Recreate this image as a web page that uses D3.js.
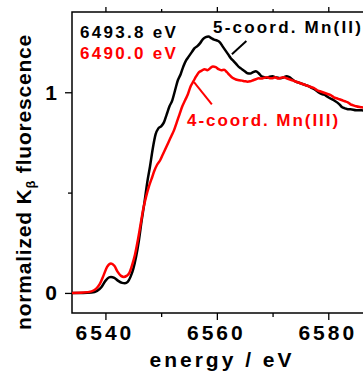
<!DOCTYPE html>
<html>
<head>
<meta charset="utf-8">
<script src="https://cdn.jsdelivr.net/npm/d3@7"></script>
<style>
  body { margin: 0; background: #fff; }
  svg { display: block; font-family: "Liberation Sans", Arial, sans-serif; font-weight: bold; }
</style>
</head>
<body>
<svg id="chart" width="363" height="371"></svg>
<script>
// energies (eV) and normalized intensities
var mn2Energy = [6534, 6536, 6537.5, 6538.5, 6539.3, 6540, 6540.6, 6541, 6541.6, 6542.3, 6543, 6543.5, 6544, 6544.5, 6545, 6545.5, 6546, 6546.5, 6547, 6547.5, 6548, 6548.5, 6549, 6549.5, 6550, 6550.5, 6551, 6551.5, 6552, 6552.5, 6553, 6553.5, 6554, 6554.5, 6555, 6555.5, 6556, 6556.5, 6557, 6557.5, 6558, 6558.5, 6559, 6559.5, 6560, 6560.5, 6561, 6561.5, 6562, 6562.5, 6563, 6563.5, 6564, 6564.5, 6565, 6565.5, 6566, 6566.5, 6567, 6567.5, 6568, 6568.5, 6569, 6569.5, 6570, 6570.5, 6571, 6571.5, 6572, 6572.5, 6573, 6573.5, 6574, 6574.5, 6575, 6575.5, 6576, 6576.5, 6577, 6577.5, 6578, 6578.5, 6579, 6579.5, 6580, 6581, 6582, 6582.5, 6583, 6583.5, 6584, 6585, 6586, 6587, 6588];
var mn2Value = [0, 0, 0.002, 0.01, 0.03, 0.06, 0.077, 0.08, 0.075, 0.06, 0.05, 0.048, 0.055, 0.08, 0.12, 0.18, 0.26, 0.36, 0.45, 0.55, 0.63, 0.72, 0.79, 0.82, 0.83, 0.85, 0.89, 0.93, 0.96, 1.01, 1.06, 1.09, 1.13, 1.16, 1.18, 1.2, 1.22, 1.23, 1.245, 1.265, 1.275, 1.278, 1.27, 1.262, 1.258, 1.25, 1.23, 1.21, 1.19, 1.17, 1.155, 1.14, 1.125, 1.115, 1.105, 1.095, 1.093, 1.1, 1.105, 1.095, 1.08, 1.075, 1.072, 1.078, 1.08, 1.075, 1.072, 1.07, 1.075, 1.08, 1.075, 1.065, 1.055, 1.05, 1.045, 1.04, 1.035, 1.03, 1.022, 1.015, 1.005, 0.995, 0.99, 0.985, 0.975, 0.96, 0.94, 0.925, 0.92, 0.915, 0.915, 0.91, 0.91, 0.905, 0.9];

var mn3Energy = [6534, 6536, 6537.5, 6538.3, 6539, 6539.7, 6540.3, 6541, 6541.6, 6542.2, 6542.8, 6543.3, 6543.8, 6544.3, 6544.8, 6545.3, 6545.8, 6546.3, 6546.8, 6547.3, 6547.8, 6548.3, 6548.8, 6549.3, 6549.8, 6550.3, 6550.8, 6551.3, 6551.8, 6552.3, 6552.8, 6553.3, 6553.8, 6554.3, 6554.8, 6555.3, 6555.8, 6556.3, 6556.8, 6557.3, 6557.8, 6558.3, 6558.8, 6559.3, 6559.8, 6560.3, 6560.8, 6561.3, 6561.8, 6562.3, 6562.8, 6563.3, 6564, 6564.5, 6565, 6565.5, 6566, 6566.5, 6567, 6567.5, 6568, 6568.5, 6569, 6569.5, 6570, 6570.5, 6571, 6571.5, 6572, 6572.5, 6573, 6573.5, 6574, 6574.5, 6575, 6575.5, 6576, 6576.5, 6577, 6577.5, 6578, 6578.5, 6579, 6579.5, 6580, 6580.5, 6581, 6581.5, 6582, 6582.5, 6583, 6583.5, 6584, 6584.5, 6585, 6586, 6587, 6588];
var mn3Value = [0, 0.002, 0.008, 0.02, 0.045, 0.09, 0.13, 0.147, 0.135, 0.105, 0.085, 0.08, 0.085, 0.1, 0.14, 0.19, 0.26, 0.34, 0.42, 0.48, 0.53, 0.57, 0.61, 0.64, 0.66, 0.69, 0.72, 0.75, 0.78, 0.81, 0.85, 0.89, 0.93, 0.96, 0.99, 1.03, 1.055, 1.08, 1.1, 1.108, 1.115, 1.11, 1.12, 1.128, 1.125, 1.115, 1.11, 1.112, 1.1, 1.085, 1.072, 1.065, 1.06, 1.058, 1.055, 1.053, 1.055, 1.06, 1.065, 1.07, 1.068, 1.072, 1.075, 1.07, 1.07, 1.075, 1.068, 1.072, 1.075, 1.07, 1.065, 1.06, 1.055, 1.05, 1.045, 1.04, 1.035, 1.03, 1.025, 1.02, 1.01, 1.005, 1.0, 0.995, 0.99, 0.985, 0.975, 0.97, 0.965, 0.96, 0.955, 0.95, 0.94, 0.935, 0.93, 0.925, 0.92, 0.915];

var xTicksMajor = [6540, 6560, 6580];
var xTicksMinor = [6550, 6570];
var yTicksMajor = [0, 1];
var yTicksMinor = [0.5];

(function() {
  var svg = d3.select('#chart');

  var x = d3.scaleLinear().domain([6534, 6590]).range([72, 384]);
  var y = d3.scaleLinear().domain([-0.1, 1.4]).range([313, 12]);

  // frame
  svg.append('rect')
    .attr('x', 72).attr('y', 12)
    .attr('width', 312).attr('height', 301)
    .attr('fill', 'none')
    .attr('stroke', '#000')
    .attr('stroke-width', 1.5);

  // bottom axis
  var bottomAxis = svg.append('g').attr('transform', 'translate(0,313)');
  bottomAxis.append('g').call(d3.axisBottom(x).tickValues(xTicksMajor).tickSize(7).tickPadding(5).tickFormat(d3.format('d')));
  bottomAxis.append('g').call(d3.axisBottom(x).tickValues(xTicksMinor).tickSize(4).tickFormat(''));

  // top axis, ticks only
  var topAxis = svg.append('g').attr('transform', 'translate(0,12)');
  topAxis.append('g').call(d3.axisTop(x).tickValues(xTicksMajor).tickSize(5).tickFormat(''));
  topAxis.append('g').call(d3.axisTop(x).tickValues(xTicksMinor).tickSize(3).tickFormat(''));

  // left axis
  var leftAxis = svg.append('g').attr('transform', 'translate(72,0)');
  leftAxis.append('g').call(d3.axisLeft(y).tickValues(yTicksMajor).tickSize(7).tickPadding(8).tickFormat(d3.format('d')));
  leftAxis.append('g').call(d3.axisLeft(y).tickValues(yTicksMinor).tickSize(4).tickFormat(''));

  svg.selectAll('.domain').remove();
  svg.selectAll('.tick line').attr('stroke', '#000').attr('stroke-width', 1.3);
  svg.selectAll('.tick text')
    .attr('fill', '#000')
    .style('font-size', '21px')
    .style('font-weight', 'bold')
    .style('font-family', '"Liberation Sans", Arial, sans-serif');
  bottomAxis.selectAll('.tick text').style('letter-spacing', '3px').attr('dx', '-1px');

  // curves
  var line = d3.line()
    .x(function(d) { return x(d[0]); })
    .y(function(d) { return y(d[1]); })
    .curve(d3.curveMonotoneX);

  svg.append('path')
    .datum(d3.zip(mn2Energy, mn2Value))
    .attr('fill', 'none')
    .attr('stroke', '#000')
    .attr('stroke-width', 2.5)
    .attr('d', line);

  svg.append('path')
    .datum(d3.zip(mn3Energy, mn3Value))
    .attr('fill', 'none')
    .attr('stroke', '#ff0000')
    .attr('stroke-width', 2.5)
    .attr('d', line);

  // leader lines
  svg.append('line')
    .attr('x1', x(6562.7)).attr('y1', y(1.19))
    .attr('x2', x(6565.3)).attr('y2', y(1.255))
    .attr('stroke', '#000').attr('stroke-width', 2);

  svg.append('line')
    .attr('x1', x(6555.9)).attr('y1', y(1.05))
    .attr('x2', x(6559.1)).attr('y2', y(0.94))
    .attr('stroke', '#ff0000').attr('stroke-width', 2);

  // annotations
  svg.append('text')
    .attr('x', 80).attr('y', 38)
    .style('font-size', '17px').style('letter-spacing', '2.3px')
    .attr('fill', '#000')
    .text('6493.8 eV');

  svg.append('text')
    .attr('x', 80).attr('y', 59)
    .style('font-size', '17px').style('letter-spacing', '2.3px')
    .attr('fill', '#ff0000')
    .text('6490.0 eV');

  svg.append('text')
    .attr('x', 213).attr('y', 33)
    .style('font-size', '17px').style('letter-spacing', '2.2px')
    .attr('fill', '#000')
    .text('5-coord. Mn(II)');

  svg.append('text')
    .attr('x', 187).attr('y', 126)
    .style('font-size', '17px').style('letter-spacing', '1.95px')
    .attr('fill', '#ff0000')
    .text('4-coord. Mn(III)');

  // axis titles
  svg.append('text')
    .attr('x', 222).attr('y', 367)
    .attr('text-anchor', 'middle')
    .style('font-size', '21px').style('letter-spacing', '3px')
    .text('energy / eV');

  var yTitle = svg.append('text')
    .attr('transform', 'translate(31,182) rotate(-90)')
    .attr('text-anchor', 'middle')
    .style('font-size', '21px').style('letter-spacing', '0.8px');
  yTitle.append('tspan').text('normalized K');
  yTitle.append('tspan').attr('baseline-shift', '-30%').style('font-size', '13px').text('\u03b2');
  yTitle.append('tspan').text(' fluorescence');
})();
</script>
</body>
</html>
